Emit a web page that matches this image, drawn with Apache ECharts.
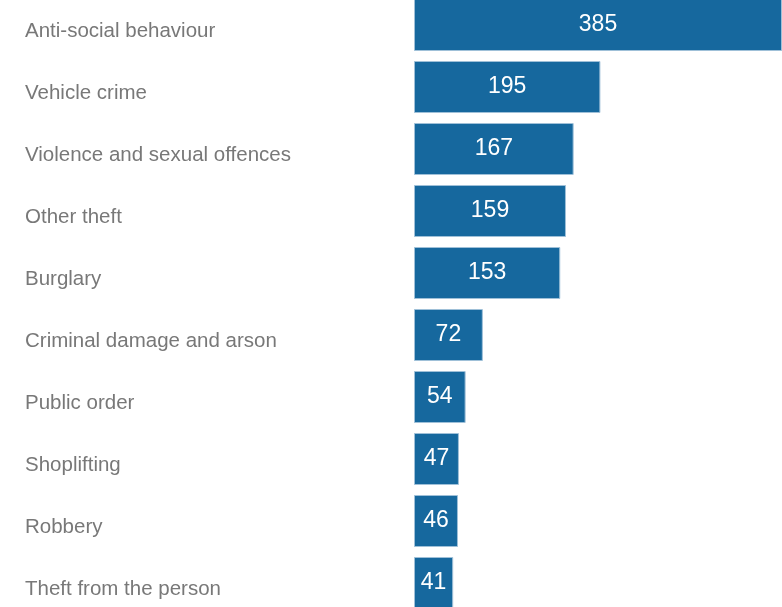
<!DOCTYPE html>
<html>
<head>
<meta charset="utf-8">
<script src="https://cdn.jsdelivr.net/npm/echarts@6/dist/echarts.min.js"></script>
<style>
  html, body { margin: 0; padding: 0; background: #fff; }
  #chart { width: 782px; height: 607px; }
</style>
</head>
<body>
<div id="chart"></div>
<script>
// Recorded crimes by category
const categories = [
  'Anti-social behaviour',
  'Vehicle crime',
  'Violence and sexual offences',
  'Other theft',
  'Burglary',
  'Criminal damage and arson',
  'Public order',
  'Shoplifting',
  'Robbery',
  'Theft from the person'
];
const counts = [385, 195, 167, 159, 153, 72, 54, 47, 46, 41];

const chart = echarts.init(document.getElementById('chart'), null, { renderer: 'canvas' });

chart.setOption({
  animation: false,
  backgroundColor: '#ffffff',
  grid: {
    left: 414, right: 0, top: -6, height: 620,
    containLabel: false,
    outerBoundsMode: 'none'
  },
  xAxis: {
    type: 'value',
    min: 0,
    max: 385,
    show: false
  },
  yAxis: {
    type: 'category',
    data: categories,
    inverse: true,
    axisLine: { show: false },
    axisTick: { show: false },
    splitLine: { show: false },
    axisLabel: {
      align: 'left',
      verticalAlign: 'top',
      lineHeight: 12,
      margin: 389,
      color: '#787878',
      fontFamily: 'Liberation Sans, Arial, sans-serif',
      fontSize: 20.5
    }
  },
  series: [{
    type: 'bar',
    data: counts,
    barWidth: 52,
    itemStyle: {
      color: '#16689e',
      borderColor: '#9fc0d8',
      borderWidth: 1
    },
    label: {
      show: true,
      position: 'inside',
      color: '#ffffff',
      fontFamily: 'Liberation Sans, Arial, sans-serif',
      fontSize: 23
    }
  }]
});
</script>
</body>
</html>
